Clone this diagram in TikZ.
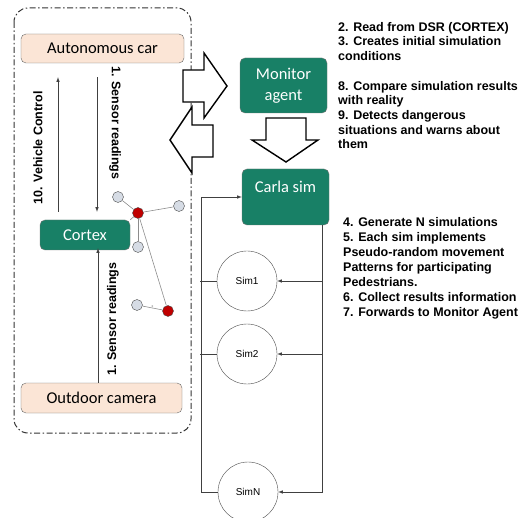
\documentclass[tikz,border=0pt]{standalone}
\usepackage{fontspec}
\setmainfont{Liberation Sans}
\newfontfamily\boxfont{Carlito}
\definecolor{boxgreen}{RGB}{24,128,102}
\definecolor{peach}{RGB}{251,229,214}
\definecolor{atomgray}{RGB}{214,220,229}
\definecolor{atomred}{RGB}{192,0,0}
\tikzset{
  greenbox/.style={rectangle,rounded corners=5pt,draw=black!55,fill=boxgreen,text=white,
    font=\boxfont\fontsize{16.5}{21.5}\selectfont,align=center,inner sep=0},
  peachbox/.style={rectangle,rounded corners=5pt,draw=black!60,fill=peach,
    font=\boxfont\fontsize{16.5}{20}\selectfont,inner sep=0},
  simnode/.style={circle,draw=black!70,minimum size=60pt,inner sep=0,font=\fontsize{10}{12}\selectfont},
  atom/.style={circle,draw=black!70,fill=atomgray,minimum size=11pt,inner sep=0},
  ratom/.style={atom,fill=atomred},
  bond/.style={draw=black!45,line width=0.6pt},
  note/.style={anchor=north west,align=left,inner sep=0,font=\bfseries\fontsize{12.5}{14.7}\selectfont},
  flow/.style={->,>=latex,draw=black!75,line width=0.6pt},
  bigarrow/.style={draw=black,line width=1.4pt,fill=white,line join=miter},
}
\begin{document}
\begin{tikzpicture}[x=1pt,y=-1pt]
  \useasboundingbox (0,0) rectangle (527,518);

  \draw[black!80,line width=1pt,rounded corners=14pt,
    dash pattern=on 6pt off 2.5pt on 1.5pt off 2.5pt] (14,8) rectangle (191,433);

  \node[peachbox,minimum width=163pt,minimum height=29pt] (car) at (102.5,48.5) {Autonomous car};
  \node[greenbox,minimum width=90pt,minimum height=30pt] (cortex) at (85,235) {Cortex};
  \node[peachbox,minimum width=161pt,minimum height=30pt] (camera) at (101.5,398) {Outdoor camera};

  \node[greenbox,minimum width=87pt,minimum height=55pt] (monitor) at (283.5,85.5) {Monitor\\agent};
  \node[greenbox,minimum width=87pt,minimum height=56pt,text depth=20pt] (carla) at (285.5,197) {Carla sim};

  \node[simnode] (sim1) at (247,281) {Sim1};
  \node[simnode] (sim2) at (247,354) {Sim2};
  \node[simnode] (simN) at (248,492) {SimN};

  % car <-> cortex <- camera
  \draw[flow] ([xshift=-5.5pt,yshift=-14pt]car.south) -- ([xshift=12pt,yshift=8pt]cortex.north);
  \draw[flow] ([xshift=-27pt,yshift=8pt]cortex.north) -- ([xshift=-44.5pt,yshift=-14pt]car.south);
  \draw[flow] (camera.north -| 98,0) -- ([xshift=13pt,yshift=2pt]cortex.south);

  \node[rotate=-90,font=\bfseries\fontsize{12.5}{15}\selectfont] (senstop) at (115,123) {1. Sensor readings};
  \node[rotate=90,font=\bfseries\fontsize{12.5}{15}\selectfont] (control) at (38,148) {10. Vehicle Control};
  \node[rotate=90,font=\bfseries\fontsize{12.5}{15}\selectfont] (sensbot) at (113,319) {1. Sensor readings};

  % small graph next to cortex
  \node[ratom] (r1) at (138,213) {};
  \node[atom] (g1) at (118,197) {};
  \node[atom] (g2) at (179,206) {};
  \node[atom] (g3) at (138,247) {};
  \node[atom] (g4) at (137,305) {};
  \node[ratom] (r2) at (168,311) {};

  \draw[bond] (r1) -- (g1);
  \draw[bond] (r1) -- (g2);
  \draw[bond] (r1) -- (g3);
  \draw[bond] (r1) -- (r2);
  \draw[bond] (r1) -- (cortex.north east);
  \draw[bond] (g4) -- node[above,inner sep=0.5pt,text=black!60,font=\fontsize{3.5}{4}\selectfont] (xlab) {x} (r2);

  % block arrows
  \draw[bigarrow] (183,70) -- (204,70) -- (204,53) -- (227,86) -- (204,118) -- (204,102) -- (183,102) -- cycle;
  \draw[bigarrow] (213,125) -- (192,125) -- (192,107) -- (170,140) -- (192,173) -- (192,157) -- (213,157) -- cycle;
  \draw[bigarrow] (266,118) -- (306,118) -- (306,140) -- (318,140) -- (286,162) -- (252,140) -- (266,140) -- cycle;

  % carla sim <-> sims
  \coordinate (rtop) at ([xshift=36.5pt]carla.south);
  \draw[flow] (rtop) |- (simN.east);
  \draw[flow] (rtop |- sim1.east) -- (sim1.east);
  \draw[flow] (rtop |- sim2.east) -- (sim2.east);
  \draw[flow] (simN.west) -- ++(-17,0) |- (carla.west);
  \draw[draw=black!75,line width=0.6pt] (sim1.west) -- ++(-17,0);
  \draw[draw=black!75,line width=0.6pt] (sim2.west) -- ++(-17,0);

  \node[note] (steps1) at (338,22) {2. Read from DSR (CORTEX)\\3. Creates initial simulation\\conditions\\[14.7pt]8. Compare simulation results\\with reality\\9. Detects dangerous\\situations and warns about\\them};
  \node[note,font=\bfseries\fontsize{12.5}{15}\selectfont] (steps2) at (343,217) {4. Generate N simulations\\5. Each sim implements\\Pseudo-random movement\\Patterns for participating\\Pedestrians.\\6. Collect results information\\7. Forwards to Monitor Agent};
\end{tikzpicture}
\end{document}
